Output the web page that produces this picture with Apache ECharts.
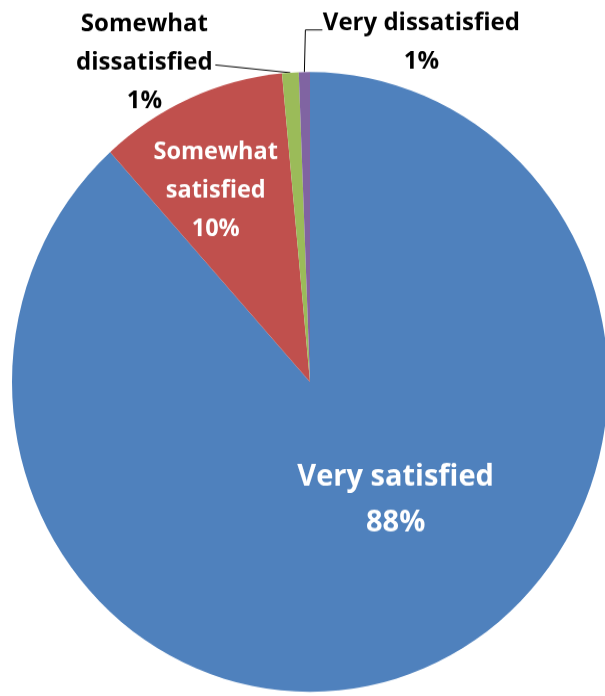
<!DOCTYPE html>
<html>
<head>
<meta charset="utf-8">
<script src="https://cdn.jsdelivr.net/npm/echarts@6/dist/echarts.min.js"></script>
<style>
  html, body { margin: 0; padding: 0; background: #ffffff; }
  body { width: 605px; height: 696px; overflow: visible; }
  #chart { width: 605px; height: 669px; transform: scaleY(1.04); transform-origin: 0 0; }
</style>
</head>
<body>
<div id="chart"></div>
<script>
const categories = ['Very satisfied', 'Somewhat satisfied', 'Somewhat dissatisfied', 'Very dissatisfied'];
const values = [88.3, 10.2, 0.9, 0.6];
const colors = ['#4F81BD', '#C0504D', '#9BBB59', '#8064A2'];

const chart = echarts.init(document.getElementById('chart'), null, { renderer: 'canvas' });

const data = categories.map((name, i) => ({
  name: name,
  value: values[i],
  itemStyle: { color: colors[i] },
  label: i < 2
    ? { position: 'inside', color: '#ffffff', fontSize: i === 0 ? 29 : 23.5, lineHeight: i === 0 ? 44 : 37 }
    : { position: 'outside', color: '#000000', fontSize: 24, lineHeight: 37 },
  labelLine: { show: i >= 2 }
}));

chart.setOption({
  animation: false,
  series: [{
    type: 'pie',
    center: [310, 367.3],
    radius: 298,
    startAngle: 90,
    clockwise: true,
    percentPrecision: 0,
    avoidLabelOverlap: false,
    itemStyle: { borderWidth: 0 },
    data: data,
    label: {
      fontFamily: 'Open Sans',
      fontWeight: 'bold',
      align: 'center',
      formatter: function (p) {
        return p.name.replace('Somewhat ', 'Somewhat\n') + '\n' + p.percent + '%';
      }
    },
    labelLine: {
      lineStyle: { color: '#000000', width: 1 }
    },
    labelLayout: function (params) {
      const i = params.dataIndex;
      if (i === 0) return { dx: 31, dy: -28 };
      if (i === 1) return { dx: -33, dy: -45 };
      const pts = params.labelLinePoints;
      if (!pts) return {};
      const p = pts[0];
      if (i === 2) {
        return {
          x: p[0] - 146, y: p[1] - 10, align: 'center', verticalAlign: 'middle',
          labelLinePoints: [p, [p[0] - 75, p[1] - 7.5], [p[0] - 75, p[1] - 7.5]]
        };
      }
      return {
        x: p[0] + 117, y: p[1] - 29, align: 'center', verticalAlign: 'middle',
        labelLinePoints: [p, [p[0] + 1, p[1] - 40.6], [p[0] + 18, p[1] - 40.6]]
      };
    }
  }]
});
</script>
</body>
</html>
